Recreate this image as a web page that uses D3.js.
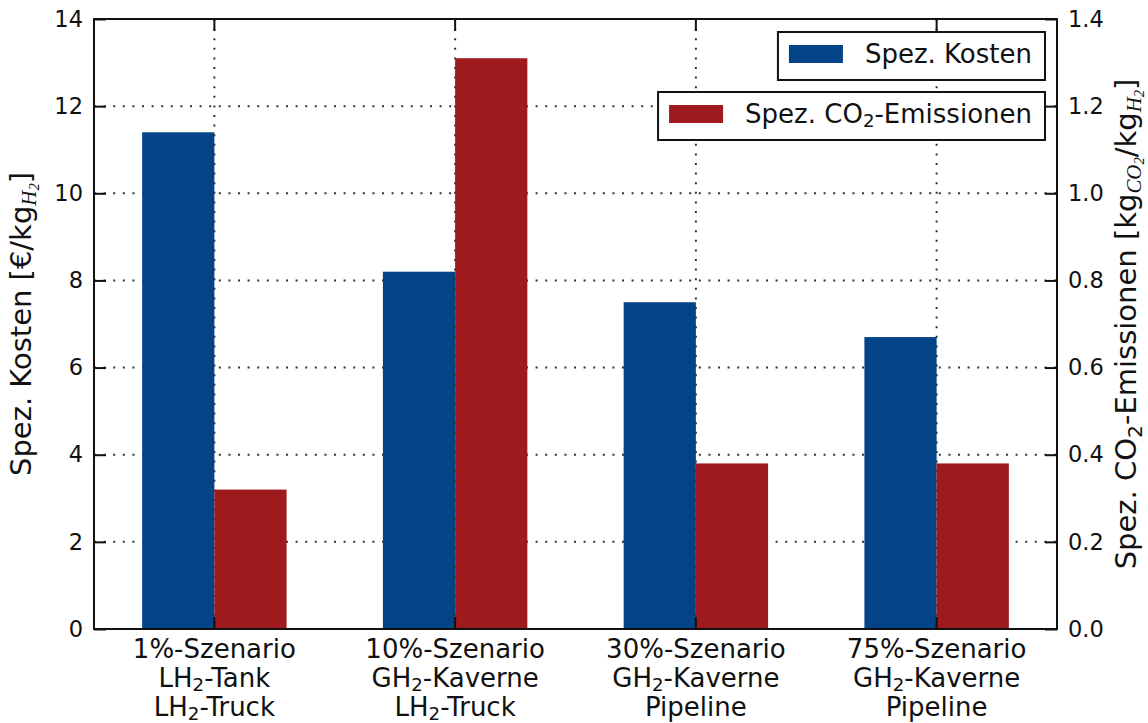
<!DOCTYPE html>
<html>
<head>
<meta charset="utf-8">
<script src="https://cdn.jsdelivr.net/npm/d3@7/dist/d3.min.js"></script>
<style>
  html, body { margin: 0; padding: 0; background: #fff; }
  svg text { font-family: "DejaVu Sans", sans-serif; fill: #111; }
  .math { font-family: "Liberation Serif", "DejaVu Serif", serif; font-style: italic; }
</style>
</head>
<body>
<svg id="chart" width="1148" height="723"></svg>
<script>
// Scenario categories (three label lines each; "_2" marks a subscript 2)
const categories = ["1%", "10%", "30%", "75%"];
const labelLines = [
  ["1%-Szenario", "LH_2-Tank", "LH_2-Truck"],
  ["10%-Szenario", "GH_2-Kaverne", "LH_2-Truck"],
  ["30%-Szenario", "GH_2-Kaverne", "Pipeline"],
  ["75%-Szenario", "GH_2-Kaverne", "Pipeline"]
];
// Specific cost [€/kg H2] (left axis)
const kosten = [11.4, 8.2, 7.5, 6.7];
// Specific CO2 emissions [kg CO2 / kg H2] (right axis)
const emissionen = [0.32, 1.31, 0.38, 0.38];
// Tick values
const leftTicks = [0, 2, 4, 6, 8, 10, 12, 14];
const rightTicks = [0.0, 0.2, 0.4, 0.6, 0.8, 1.0, 1.2, 1.4];

const blue = "#034489";
const red = "#9e1a1d";

const svg = d3.select("#chart");
const L = 94, R = 1057, T = 19, B = 629;

const x = d3.scaleBand().domain(categories).range([L, R]).padding(0);
const yL = d3.scaleLinear().domain([0, 14]).range([B, T]);
const yR = d3.scaleLinear().domain([0, 1.4]).range([B, T]);
const bw = x.bandwidth() * 0.3;
const cx = c => x(c) + x.bandwidth() / 2;

// Horizontal dotted grid (below the bars)
svg.append("g").selectAll("line").data(leftTicks.slice(1, -1)).join("line")
  .attr("x1", L).attr("x2", R)
  .attr("y1", d => yL(d)).attr("y2", d => yL(d))
  .attr("stroke", "#333").attr("stroke-width", 2)
  .attr("stroke-dasharray", "2,7.6");

// Cost bars
svg.append("g").selectAll("rect").data(categories).join("rect")
  .attr("x", c => cx(c) - bw)
  .attr("width", bw)
  .attr("y", (c, i) => yL(kosten[i]))
  .attr("height", (c, i) => B - yL(kosten[i]))
  .attr("fill", blue);

// Vertical dotted grid
svg.append("g").selectAll("line").data(categories).join("line")
  .attr("x1", c => cx(c)).attr("x2", c => cx(c))
  .attr("y1", T).attr("y2", B)
  .attr("stroke", "#333").attr("stroke-width", 2)
  .attr("stroke-dasharray", "2,7.6");

// Emission bars
svg.append("g").selectAll("rect").data(categories).join("rect")
  .attr("x", c => cx(c))
  .attr("width", bw)
  .attr("y", (c, i) => yR(emissionen[i]))
  .attr("height", (c, i) => B - yR(emissionen[i]))
  .attr("fill", red);

// Axes with inward ticks
const tickLen = 12;
const leftAxis = d3.axisLeft(yL).tickValues(leftTicks).tickSize(-tickLen).tickPadding(11).tickFormat(d3.format("d"));
const rightAxis = d3.axisRight(yR).tickValues(rightTicks).tickSize(-tickLen).tickPadding(11).tickFormat(d3.format(".1f"));
const bottomAxis = d3.axisBottom(x).tickSize(-tickLen).tickFormat("");
const topAxis = d3.axisTop(x).tickSize(-tickLen).tickFormat("");

function styleAxis(g) {
  g.select(".domain").remove();
  g.selectAll(".tick line").attr("stroke", "#111").attr("stroke-width", 2);
  g.selectAll(".tick text").attr("font-size", 22.5).attr("fill", "#111")
    .attr("font-family", "DejaVu Sans");
}
svg.append("g").attr("transform", `translate(${L},0)`).call(leftAxis).call(styleAxis);
svg.append("g").attr("transform", `translate(${R},0)`).call(rightAxis).call(styleAxis);
svg.append("g").attr("transform", `translate(0,${B})`).call(bottomAxis).call(styleAxis);
svg.append("g").attr("transform", `translate(0,${T})`).call(topAxis).call(styleAxis);

// Frame
svg.append("rect").attr("x", L).attr("y", T).attr("width", R - L).attr("height", B - T)
  .attr("fill", "none").attr("stroke", "#111").attr("stroke-width", 2);

// Text helper: "_2" becomes a subscript 2
function richText(sel, str, size) {
  const parts = str.split("_2");
  const drop = size * 0.16;
  parts.forEach((p, i) => {
    if (p) {
      const ts = sel.append("tspan").text(p);
      if (i > 0) ts.attr("dy", -drop);
    }
    if (i < parts.length - 1) {
      sel.append("tspan").attr("dy", drop).attr("font-size", size * 0.7).text("2");
    }
  });
}

// Category labels
const catSize = 26;
categories.forEach((c, i) => {
  labelLines[i].forEach((line, j) => {
    const t = svg.append("text")
      .attr("x", cx(c)).attr("y", 658 + j * 29)
      .attr("text-anchor", "middle").attr("font-size", catSize);
    richText(t, line, catSize);
  });
});

// Axis title with math-style subscripts: pieces = [text, kind] where kind is "n" (normal),
// "s" (plain subscript 2), or "m" (italic math subscript with its own index)
function axisTitle(tx, pieces, s) {
  const t = svg.append("text").attr("font-size", s)
    .attr("text-anchor", "middle")
    .attr("transform", `translate(${tx},${(T + B) / 2}) rotate(-90)`);
  let offset = 0;
  pieces.forEach(([str, kind]) => {
    if (kind === "n") {
      t.append("tspan").attr("dy", -offset).text(str);
      offset = 0;
    } else if (kind === "s") {
      const d = s * 0.2;
      t.append("tspan").attr("dy", d - offset).attr("font-size", s * 0.7).text(str);
      offset = d;
    } else {
      const d1 = s * 0.18, d2 = s * 0.1;
      t.append("tspan").attr("class", "math").attr("font-size", s * 0.72).attr("dy", d1 - offset).text(str);
      t.append("tspan").attr("class", "math").attr("font-size", s * 0.5).attr("dy", d2).text("2");
      offset = d1 + d2;
    }
  });
  return t;
}

const titleSize = 29;
axisTitle(31, [["Spez. Kosten [€/kg", "n"], ["H", "m"], ["]", "n"]], titleSize);
axisTitle(1136, [["Spez. CO", "n"], ["2", "s"], ["-Emissionen [kg", "n"], ["CO", "m"],
  ["/kg", "n"], ["H", "m"], ["]", "n"]], titleSize);

// Legends: two separate boxes, right-aligned inside the plot
const legends = [
  { label: "Spez. Kosten", color: blue, y: 32 },
  { label: "Spez. CO_2-Emissionen", color: red, y: 92 }
];
const legSize = 26, boxRight = 1045, boxH = 48;
legends.forEach(l => {
  const g = svg.append("g");
  const box = g.append("rect").attr("fill", "#fff").attr("stroke", "#111").attr("stroke-width", 2);
  const t = g.append("text").attr("font-size", legSize).attr("y", l.y + 31);
  richText(t, l.label, legSize);
  const tw = t.node().getComputedTextLength();
  const textX = boxRight - 13 - tw;
  t.attr("x", textX);
  const patchX = textX - 22 - 54;
  g.append("rect").attr("x", patchX).attr("y", l.y + 13).attr("width", 54).attr("height", 18)
    .attr("fill", l.color);
  const boxX = patchX - 11;
  box.attr("x", boxX).attr("y", l.y).attr("width", boxRight - boxX).attr("height", boxH);
});
</script>
</body>
</html>
